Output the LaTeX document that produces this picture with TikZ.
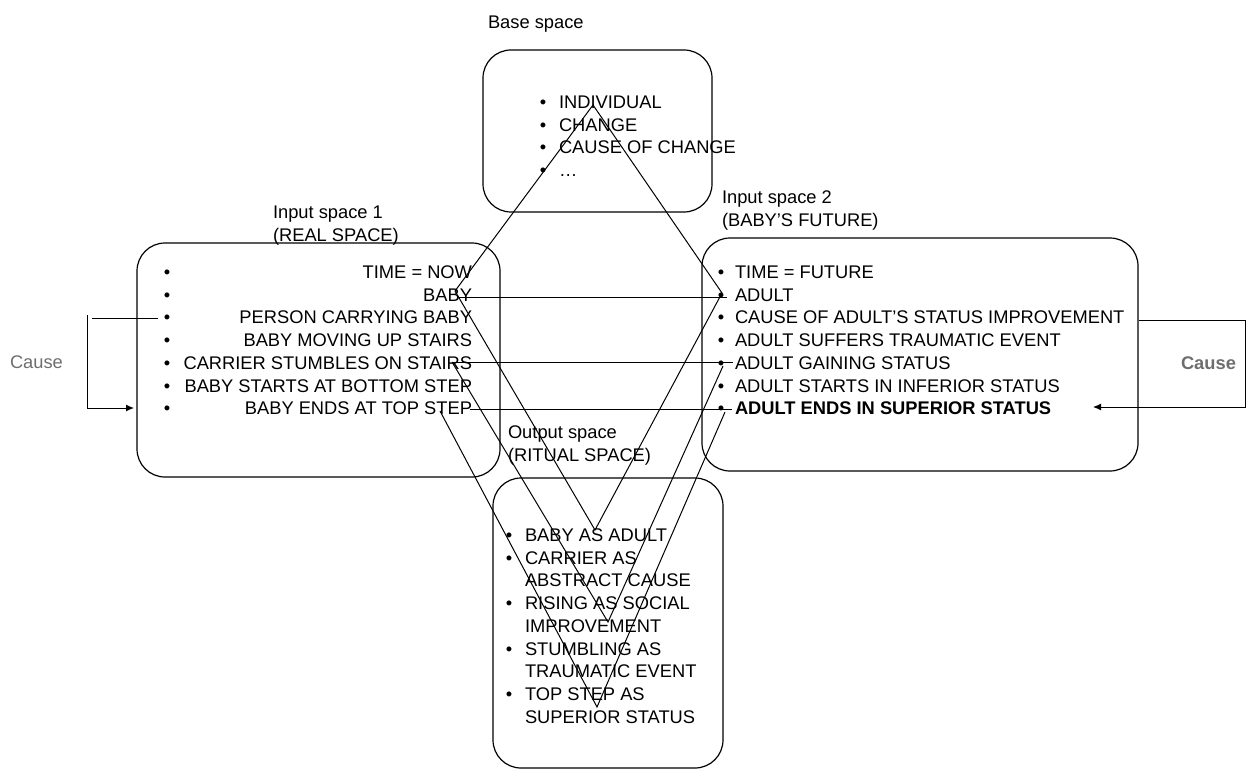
\documentclass[tikz,border=0pt]{standalone}
\usepackage{fontspec}
\setmainfont{Liberation Sans}
\usetikzlibrary{arrows.meta}
\definecolor{causegray}{RGB}{110,110,110}
\begin{document}
\begin{tikzpicture}[x=1pt,y=-1pt,
  every node/.style={inner sep=0pt, outer sep=0pt, font=\fontsize{18.3}{22}\selectfont},
  space/.style={draw=black, line width=1.2pt, rounded corners=28pt},
  item/.style={anchor=base west},
  itemr/.style={anchor=base east},
  dot/.style={anchor=base},
  link/.style={draw=black, line width=1pt},
  causelbl/.style={text=causegray, anchor=base west},
  tip/.style={-{Latex[length=8pt,width=7pt]}}
]
\useasboundingbox (0,0) rectangle (1246,770);

% the four spaces
\node[space, minimum width=229pt, minimum height=162pt] (base) at (597.5,131) {};
\node[space, minimum width=363pt, minimum height=234pt] (in1) at (318.5,360) {};
\node[space, minimum width=436pt, minimum height=233pt] (in2) at (920,354.5) {};
\node[space, minimum width=230pt, minimum height=290pt] (out) at (608,623) {};

% titles
\node[item] (tbase) at (488,28.5) {Base space};
\node[item] (tin1a) at (273,218.5) {Input space 1};
\node[item] (tin1b) at (273,241.5) {(REAL SPACE)};
\node[item] (tin2a) at (722,203.5) {Input space 2};
\node[item] (tin2b) at (722,226.5) {(BABY’S FUTURE)};
\node[item] (touta) at (508,438.5) {Output space};
\node[item] (toutb) at (508,461.5) {(RITUAL SPACE)};

% base space list
\foreach \t [count=\i from 0] in {INDIVIDUAL, CHANGE, CAUSE OF CHANGE, …} {
  \pgfmathsetmacro\yb{102+22.7*\i+6.5}
  \node[dot] (bb-\i) at (543,\yb) {•};
  \node[item] (b-\i) at (559,\yb) {\t};
}

% input space 1 list (right aligned)
\foreach \t [count=\i from 0] in {TIME = NOW, BABY, PERSON CARRYING BABY, BABY MOVING UP STAIRS, CARRIER STUMBLES ON STAIRS, BABY STARTS AT BOTTOM STEP, BABY ENDS AT TOP STEP} {
  \pgfmathsetmacro\yb{272+22.7*\i+6.5}
  \node[dot] (ba-\i) at (167,\yb) {•};
  \node[itemr] (a-\i) at (472,\yb) {\t};
}

% input space 2 list
\foreach \t [count=\i from 0] in {TIME = FUTURE, ADULT, CAUSE OF ADULT’S STATUS IMPROVEMENT, ADULT SUFFERS TRAUMATIC EVENT, ADULT GAINING STATUS, ADULT STARTS IN INFERIOR STATUS, {\textbf{ADULT ENDS IN SUPERIOR STATUS}}} {
  \pgfmathsetmacro\yb{272+22.7*\i+6.5}
  \node[dot] (bc-\i) at (721,\yb) {•};
  \node[item] (c-\i) at (735,\yb) {\t};
}

% output space list
\foreach \t/\b [count=\i from 0] in {BABY AS ADULT/1, CARRIER AS/1, ABSTRACT CAUSE/0, RISING AS SOCIAL/1, IMPROVEMENT/0, STUMBLING AS/1, TRAUMATIC EVENT/0, TOP STEP AS/1, SUPERIOR STATUS/0} {
  \pgfmathsetmacro\yb{535+22.7*\i+6.5}
  \ifnum\b=1 \node[dot] (bo-\i) at (509,\yb) {•}; \fi
  \node[item] (o-\i) at (525,\yb) {\t};
}

% cause labels
\node[causelbl] (causeL) at (10,368.5) {Cause};
\node[causelbl, font=\fontsize{18.3}{22}\selectfont\bfseries] (causeR) at (1181,369.5) {Cause};

% anchor points of the mappings
\coordinate (apex) at (593,105);
\coordinate (babyV) at (455,291);
\coordinate (babyH) at (457,297);
\coordinate (adultV) at (722,293);
\coordinate (adultH) at (727,297);
\coordinate (carrier) at (452,362);
\coordinate (gainH) at (733,362);
\coordinate (gainV) at (723,366);
\coordinate (topH) at (470,409);
\coordinate (topV) at (440,411);
\coordinate (endsH) at (732,409);
\coordinate (endsV) at (725,412);
\coordinate (v1) at (595,530);
\coordinate (v2) at (608,622);
\coordinate (v3) at (597,707);

% cross-space mappings
\draw[link] (babyV) -- (apex) -- (adultV);
\draw[link] (babyH) -- (adultH);
\draw[link] (carrier) -- (gainH);
\draw[link] (topH) -- (endsH);
\draw[link] (babyV) -- (v1) -- (adultV);
\draw[link] (carrier) -- (v2) -- (gainV);
\draw[link] (topV) -- (v3) -- (endsV);

% cause brackets
\coordinate (cl1) at (158,318);
\coordinate (cl2) at (92,318);
\coordinate (cl3) at (87,315);
\coordinate (cl4) at (87,408);
\coordinate (cl5) at (134,408);
\draw[link] (cl1) -- (cl2);
\draw[link] (cl3) -- (cl4);
\draw[link, tip] (cl4) -- (cl5);

\coordinate (cr1) at (1139,320);
\coordinate (cr2) at (1245,320);
\coordinate (cr3) at (1245,407);
\coordinate (cr4) at (1093,407);
\draw[link, tip] (cr1) -- (cr2) -- (cr3) -- (cr4);
\end{tikzpicture}
\end{document}
